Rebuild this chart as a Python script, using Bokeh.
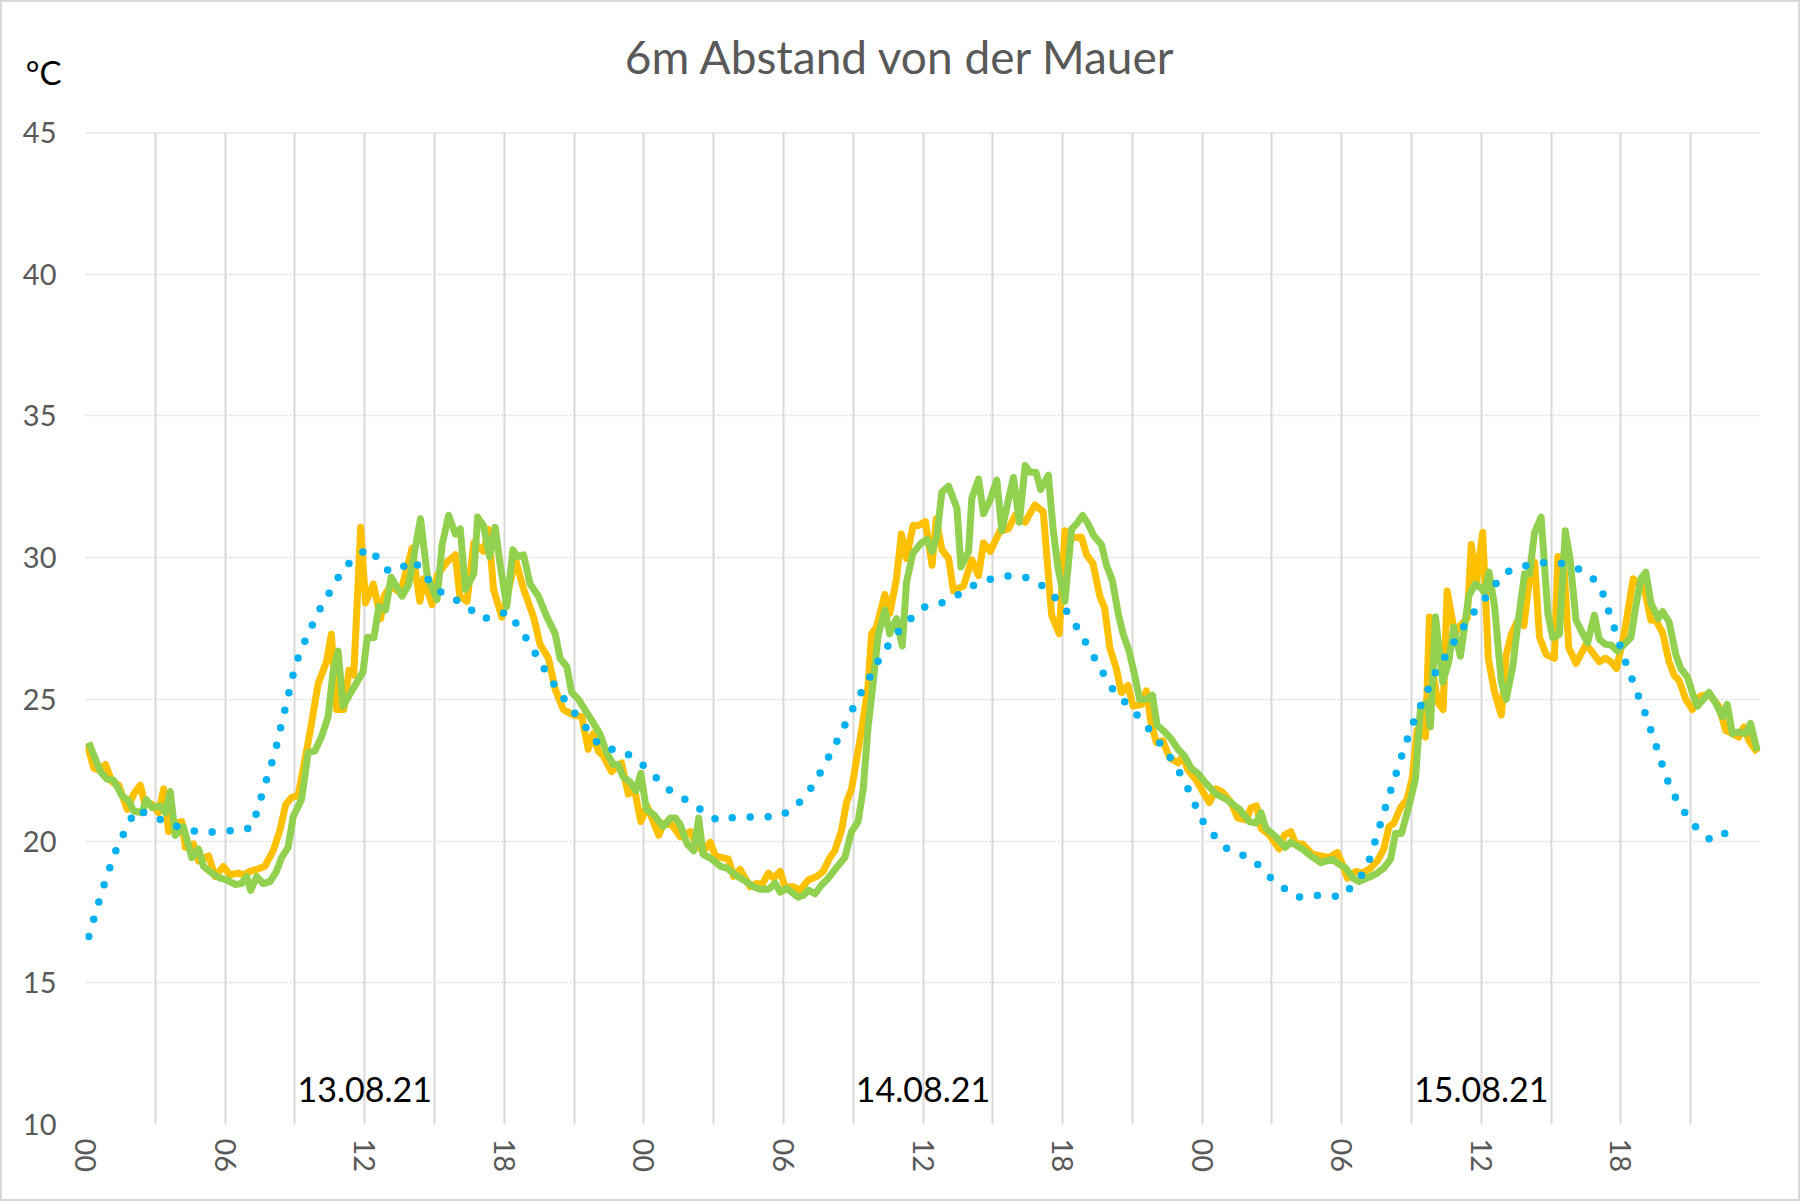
from bokeh.plotting import figure
from bokeh.layouts import column
from bokeh.models import Range1d, FixedTicker, Label, Span
from bokeh.embed import file_html
from bokeh.resources import INLINE

TITLE = "6m Abstand von der Mauer"
UNIT = "°C"
DAYS = ["13.08.21", "14.08.21", "15.08.21"]
HOUR_LABELS = ["00", "06", "12", "18"]
Y_TICKS = [10, 15, 20, 25, 30, 35, 40, 45]

# hours since 13.08.21 00:00, temperatures in °C
orange_hours = [
    0.07, 0.36, 0.57, 0.86, 1.14, 1.43, 1.79, 2.07, 2.36, 2.53, 2.86, 3.14, 3.36, 3.57, 3.86,
    4.14, 4.29, 4.64, 4.86, 5.29, 5.57, 5.93, 6.21, 6.57, 6.79, 7.07, 7.36, 7.71, 8.07, 8.36,
    8.61, 8.86, 9.14, 9.64, 10.0, 10.36, 10.57, 10.79, 11.1, 11.33, 11.53, 11.83, 12.04, 12.37,
    12.69, 12.83, 13.11, 13.54, 14.04, 14.37, 14.54, 14.9, 15.11, 15.54, 15.9, 16.09, 16.4,
    16.69, 17.11, 17.33, 17.54, 17.9, 18.19, 18.47, 18.83, 19.26, 19.54, 19.9, 20.19, 20.54,
    20.97, 21.33, 21.61, 21.83, 22.04, 22.26, 22.61, 23.04, 23.33, 23.61, 23.87, 24.14, 24.64,
    24.86, 25.21, 25.57, 26.0, 26.31, 26.57, 26.86, 27.07, 27.64, 27.86, 28.14, 28.57, 28.86,
    29.07, 29.36, 29.57, 29.86, 30.07, 30.43, 30.71, 31.07, 31.43, 31.71, 32.0, 32.21, 32.5,
    32.71, 32.93, 33.21, 33.43, 33.64, 33.79, 34.0, 34.36, 34.57, 34.86, 35.07, 35.29, 35.57,
    35.79, 36.1, 36.39, 36.57, 36.81, 37.1, 37.31, 37.74, 38.1, 38.39, 38.6, 38.89, 39.31,
    39.67, 39.96, 40.39, 40.81, 41.17, 41.39, 41.53, 41.86, 42.1, 42.46, 42.81, 43.03, 43.31,
    43.6, 43.81, 44.03, 44.31, 44.53, 44.81, 45.03, 45.39, 45.6, 45.81, 46.03, 46.31, 46.6,
    46.96, 47.17, 47.39, 47.74, 47.96, 48.31, 48.6, 48.89, 49.24, 49.53, 49.89, 50.1, 50.34,
    50.53, 50.89, 51.31, 51.53, 51.81, 52.03, 52.31, 52.74, 53.1, 53.46, 53.81, 54.03, 54.24,
    54.6, 54.89, 55.24, 55.53, 55.81, 56.03, 56.24, 56.53, 56.81, 57.03, 57.24, 57.6, 57.77,
    57.96, 58.14, 58.36, 58.53, 58.86, 59.1, 59.39, 59.57, 59.79, 60.06, 60.3, 60.57, 60.86,
    61.07, 61.29, 61.57, 61.83, 62.07, 62.29, 62.5, 62.79, 63.14, 63.29, 63.53, 63.76, 64.07,
    64.5, 64.79, 65.07, 65.33, 65.57, 65.81, 66.14, 66.53, 66.79, 67.0, 67.29, 67.5, 67.79,
    68.07, 68.29, 68.5, 68.79, 69.07, 69.43, 69.79, 70.21, 70.5, 70.79, 71.07, 71.29, 71.5,
    71.86,
]
orange_temps = [
    23.42, 22.57, 22.51, 22.7, 22.09, 21.97, 21.12, 21.66, 21.97, 21.36, 21.3, 21.0, 21.84,
    20.33, 20.63, 20.69, 19.78, 19.9, 19.3, 19.48, 18.75, 19.1, 18.81, 18.87, 18.81, 18.93,
    19.0, 19.11, 19.66, 20.39, 21.3, 21.54, 21.6, 23.79, 25.55, 26.33, 27.3, 24.64, 24.64,
    26.03, 25.85, 31.07, 28.4, 29.07, 27.85, 28.64, 29.0, 28.76, 30.34, 28.46, 29.25, 28.34,
    29.37, 29.85, 30.1, 28.64, 28.46, 30.52, 30.22, 31.0, 28.88, 27.9, 28.88, 29.97, 28.9,
    27.9, 26.94, 26.45, 25.36, 24.64, 24.45, 24.39, 23.24, 23.79, 23.18, 23.0, 22.45, 22.76,
    21.66, 21.78, 20.69, 21.24, 20.21, 20.63, 20.57, 20.15, 20.33, 19.78, 19.66, 19.96, 19.48,
    19.36, 18.75, 19.0, 18.39, 18.51, 18.45, 18.87, 18.69, 18.93, 18.39, 18.39, 18.26, 18.63,
    18.75, 18.93, 19.42, 19.66, 20.39, 21.36, 21.84, 23.18, 24.27, 25.49, 27.31, 27.55, 28.7,
    28.03, 29.25, 30.83, 29.97, 31.13, 31.13, 31.27, 29.73, 31.37, 30.28, 29.98, 28.82, 29.0,
    29.92, 29.37, 30.52, 30.22, 30.95, 31.01, 31.49, 31.25, 31.86, 31.62, 29.37, 27.97, 27.31,
    30.95, 30.7, 30.73, 30.1, 29.79, 28.64, 28.22, 26.82, 26.09, 25.24, 25.49, 24.76, 24.82,
    25.3, 24.15, 23.48, 23.54, 22.94, 22.76, 23.0, 22.51, 22.15, 21.84, 21.36, 21.84, 21.72,
    21.36, 20.81, 20.75, 21.18, 21.24, 20.45, 20.21, 19.72, 20.21, 20.33, 19.9, 19.9, 19.54,
    19.48, 19.42, 19.6, 19.18, 18.69, 18.93, 18.87, 19.05, 19.3, 19.72, 20.51, 20.63, 21.18,
    21.48, 22.21, 23.91, 23.67, 27.91, 25.73, 24.88, 24.64, 28.82, 27.31, 27.61, 27.85, 30.46,
    29.13, 30.89, 26.45, 25.24, 24.45, 26.57, 27.3, 27.79, 27.6, 29.25, 29.85, 27.18, 26.58,
    26.45, 30.04, 29.98, 26.82, 26.27, 26.94, 26.64, 26.33, 26.45, 26.33, 26.09, 27.31, 29.25,
    29.07, 28.94, 27.79, 27.79, 27.36, 26.33, 25.85, 25.67, 25.0, 24.64, 25.12, 25.18, 24.76,
    23.91, 23.79, 23.67, 24.03, 23.55, 23.12,
]

green_hours = [
    0.14, 0.64, 0.93, 1.21, 1.57, 1.86, 2.07, 2.43, 2.61, 2.86, 3.21, 3.43, 3.64, 3.86, 4.21,
    4.57, 4.86, 5.07, 5.43, 5.79, 6.07, 6.43, 6.71, 6.93, 7.1, 7.36, 7.64, 7.93, 8.21, 8.43,
    8.71, 8.93, 9.29, 9.57, 9.86, 10.14, 10.43, 10.64, 10.86, 11.07, 11.36, 11.71, 11.93,
    12.11, 12.4, 12.61, 12.9, 13.14, 13.61, 13.9, 14.4, 14.69, 15.11, 15.33, 15.61, 15.9,
    16.11, 16.33, 16.69, 16.86, 17.11, 17.37, 17.61, 17.83, 18.11, 18.37, 18.57, 18.83, 19.11,
    19.47, 19.83, 20.19, 20.4, 20.69, 20.9, 21.19, 21.61, 22.11, 22.4, 22.69, 22.9, 23.11,
    23.4, 23.66, 23.87, 24.11, 24.43, 24.83, 25.14, 25.36, 25.57, 25.86, 26.14, 26.36, 26.54,
    26.93, 27.29, 27.57, 27.93, 28.29, 28.71, 29.0, 29.36, 29.64, 29.86, 30.14, 30.64, 30.86,
    31.07, 31.36, 31.64, 31.93, 32.21, 32.64, 32.93, 33.21, 33.43, 33.64, 33.86, 34.07, 34.36,
    34.57, 34.86, 35.11, 35.29, 35.57, 35.93, 36.17, 36.39, 36.6, 36.81, 37.1, 37.46, 37.63,
    37.96, 38.1, 38.39, 38.6, 38.89, 39.17, 39.39, 39.67, 39.89, 40.14, 40.39, 40.6, 40.86,
    41.06, 41.39, 41.6, 41.81, 42.1, 42.39, 42.6, 42.86, 43.1, 43.34, 43.67, 43.89, 44.14,
    44.39, 44.6, 44.86, 45.1, 45.31, 45.6, 45.86, 46.06, 46.39, 46.67, 46.96, 47.24, 47.53,
    47.81, 48.1, 48.6, 49.03, 49.6, 50.03, 50.31, 50.53, 50.74, 51.17, 51.57, 51.81, 52.31,
    52.67, 53.1, 53.6, 53.89, 54.17, 54.49, 54.74, 55.24, 55.53, 55.81, 56.1, 56.31, 56.57,
    56.89, 57.17, 57.39, 57.67, 57.81, 58.03, 58.34, 58.6, 58.81, 59.1, 59.46, 59.74, 60.03,
    60.14, 60.33, 60.57, 60.86, 61.07, 61.36, 61.57, 61.86, 62.07, 62.29, 62.57, 62.86, 63.07,
    63.36, 63.61, 63.81, 64.07, 64.29, 64.57, 64.86, 65.07, 65.33, 65.57, 65.86, 66.14, 66.43,
    66.64, 66.86, 67.07, 67.29, 67.61, 67.79, 68.07, 68.36, 68.57, 68.86, 69.07, 69.29, 69.79,
    70.07, 70.36, 70.57, 70.79, 71.07, 71.36, 71.57, 71.86,
]
green_temps = [
    23.48, 22.45, 22.18, 22.15, 21.6, 21.42, 21.06, 21.0, 21.46, 21.18, 21.24, 21.0, 21.75,
    20.2, 20.5, 19.42, 19.72, 19.11, 18.87, 18.69, 18.63, 18.47, 18.5, 18.75, 18.26, 18.75,
    18.5, 18.57, 18.93, 19.42, 19.78, 20.87, 21.48, 23.12, 23.18, 23.67, 24.39, 25.97, 26.7,
    24.76, 25.18, 25.67, 25.97, 27.18, 27.18, 28.28, 28.16, 29.31, 28.64, 29.07, 31.37, 29.37,
    28.52, 30.46, 31.49, 30.83, 31.01, 28.88, 29.43, 31.43, 31.13, 30.04, 31.07, 29.73, 28.28,
    30.28, 30.04, 30.1, 29.07, 28.64, 27.91, 27.31, 26.45, 26.15, 25.24, 25.0, 24.45, 23.79,
    23.12, 22.7, 22.7, 22.27, 22.09, 21.78, 22.39, 21.12, 20.93, 20.51, 20.81, 20.81, 20.57,
    19.9, 19.66, 20.81, 19.54, 19.36, 19.11, 19.05, 18.81, 18.63, 18.39, 18.3, 18.3, 18.51,
    18.2, 18.33, 18.02, 18.08, 18.27, 18.14, 18.45, 18.69, 18.99, 19.42, 20.33, 20.69, 21.84,
    24.03, 25.61, 27.25, 28.16, 27.31, 27.85, 26.88, 29.13, 30.16, 30.52, 30.64, 30.22, 30.77,
    32.31, 32.52, 31.74, 29.67, 30.22, 32.1, 32.77, 31.55, 32.04, 32.74, 30.95, 32.04, 32.83,
    31.25, 33.25, 33.01, 33.01, 32.4, 32.91, 30.95, 29.61, 28.46, 31.01, 31.19, 31.49, 31.19,
    30.77, 30.46, 29.73, 29.19, 28.03, 27.31, 26.7, 25.85, 25.0, 25.0, 25.15, 24.09, 23.85,
    23.6, 23.24, 23.0, 22.57, 22.39, 22.1, 21.66, 21.48, 21.12, 20.69, 20.63, 21.0, 20.45,
    20.15, 19.78, 19.96, 19.72, 19.48, 19.24, 19.36, 19.18, 19.05, 18.69, 18.57, 18.75, 18.87,
    19.05, 19.36, 20.27, 20.27, 21.24, 22.21, 24.76, 24.88, 24.03, 27.91, 25.61, 26.33, 27.55,
    26.52, 28.64, 29.07, 28.9, 28.76, 29.49, 28.28, 25.61, 25.0, 26.21, 27.67, 29.43, 29.43,
    30.89, 31.43, 28.03, 27.18, 27.3, 30.95, 29.98, 27.79, 27.43, 27.0, 27.97, 27.12, 26.94,
    26.92, 26.7, 26.94, 27.18, 28.28, 29.25, 29.49, 28.4, 27.85, 28.1, 27.73, 26.58, 26.09,
    25.79, 25.24, 24.76, 25.24, 24.88, 24.39, 24.82, 23.79, 23.85, 23.79, 24.15, 23.18,
]

blue_hours = [
    0.14, 0.5, 0.89, 1.33, 1.89, 2.21, 2.8, 3.41, 4.03, 4.67, 5.31, 5.97, 6.63, 7.16, 7.36,
    7.74, 8.13, 8.43, 8.73, 9.03, 9.53, 10.1, 10.77, 11.1, 11.61, 12.14, 12.61, 13.04, 13.57,
    14.11, 14.51, 14.91, 15.4, 16.0, 16.54, 17.09, 17.66, 18.2, 18.56, 18.93, 19.27, 19.6,
    19.94, 20.3, 20.69, 21.09, 21.49, 21.86, 22.33, 23.0, 23.54, 24.07, 24.54, 25.03, 25.57,
    26.14, 26.69, 27.21, 27.86, 28.5, 29.17, 29.83, 30.37, 30.84, 31.24, 31.57, 31.89, 32.19,
    32.49, 32.77, 33.07, 33.37, 33.69, 33.99, 34.34, 34.71, 35.11, 35.6, 36.11, 36.79, 37.39,
    37.93, 38.51, 39.17, 39.81, 40.44, 41.04, 41.54, 42.0, 42.37, 42.71, 43.04, 43.36, 43.69,
    44.0, 44.41, 44.9, 45.33, 45.76, 46.16, 46.54, 46.89, 47.24, 47.5, 47.77, 48.06, 48.46,
    48.89, 49.43, 50.07, 50.54, 50.99, 51.53, 52.06, 52.7, 53.34, 54.0, 54.43, 54.86, 55.17,
    55.56, 55.94, 56.34, 56.74, 57.2, 57.49, 57.74, 58.01, 58.36, 58.7, 59.06, 59.41, 59.79,
    60.24, 60.64, 61.07, 61.69, 62.33, 62.97, 63.61, 64.21, 64.79, 65.17, 65.37, 65.59, 65.79,
    65.99, 66.2, 66.44, 66.67, 66.91, 67.16, 67.34, 67.56, 67.76, 67.97, 68.21, 68.56, 68.9,
    69.33, 69.84, 70.31, 70.74,
]
blue_temps = [
    16.63, 17.66, 18.7, 19.72, 20.7, 21.12, 20.9, 20.7, 20.49, 20.36, 20.31, 20.36, 20.36,
    20.49, 21.02, 22.06, 23.08, 24.15, 25.19, 26.25, 27.25, 28.23, 29.16, 29.64, 29.99, 30.34,
    29.94, 29.51, 29.64, 29.92, 29.47, 29.03, 28.7, 28.48, 28.18, 27.83, 28.01, 28.07, 27.62,
    27.17, 26.72, 26.24, 25.78, 25.32, 24.88, 24.45, 24.03, 23.57, 23.26, 23.22, 22.94, 22.61,
    22.23, 21.84, 21.57, 21.3, 20.96, 20.72, 20.83, 20.85, 20.85, 20.87, 21.12, 21.48, 21.93,
    22.39, 22.88, 23.35, 23.83, 24.32, 24.81, 25.28, 25.75, 26.24, 26.7, 27.15, 27.57, 27.94,
    28.28, 28.4, 28.62, 28.93, 29.15, 29.3, 29.37, 29.3, 29.07, 28.71, 28.31, 27.88, 27.42,
    26.94, 26.48, 26.01, 25.52, 25.12, 24.73, 24.33, 23.91, 23.48, 23.06, 22.61, 22.12, 21.64,
    21.15, 20.66, 20.25, 19.82, 19.57, 19.43, 19.05, 18.67, 18.33, 18.01, 18.08, 18.09, 18.02,
    18.4, 18.81, 19.3, 20.33, 21.36, 22.39, 23.43, 24.45, 24.94, 25.42, 25.92, 26.39, 26.86,
    27.33, 27.78, 28.2, 28.64, 29.09, 29.49, 29.67, 29.79, 29.85, 29.77, 29.59, 29.27, 28.88,
    28.36, 27.84, 27.33, 26.82, 26.31, 25.8, 25.29, 24.78, 24.27, 23.76, 23.24, 22.73, 22.21,
    21.72, 21.26, 20.79, 20.39, 20.05, 20.12, 20.53,
]

FONT = "Lato"
GRID = "#d9d9d9"
GREY_TEXT = "#595959"
WIDTH = 1796
HEADER_H = 110
PLOT_H = 1087
BORDER_L = 83
BORDER_R = 38
FRAME_W = WIDTH - BORDER_L - BORDER_R


def make_header():
    # strip above the chart: title inside its frame, unit as its only y tick label
    h = figure(
        width=WIDTH,
        height=HEADER_H,
        x_range=Range1d(0, FRAME_W),
        y_range=Range1d(0, HEADER_H),
        x_axis_location=None,
        output_backend="svg",
        toolbar_location=None,
        min_border_left=BORDER_L,
        min_border_right=BORDER_R,
        min_border_top=0,
        min_border_bottom=0,
        outline_line_color=None,
    )
    h.grid.visible = False
    h.yaxis.ticker = FixedTicker(ticks=[41])
    h.yaxis.major_label_overrides = {41: UNIT}
    h.yaxis.axis_line_color = None
    h.yaxis.major_tick_line_color = None
    h.yaxis.minor_tick_line_color = None
    h.yaxis.major_tick_out = 0
    h.yaxis.major_tick_in = 0
    h.yaxis.major_label_standoff = 24
    h.yaxis.major_label_text_font = FONT
    h.yaxis.major_label_text_font_size = "33px"
    h.yaxis.major_label_text_color = "black"
    h.add_layout(Label(x=FRAME_W / 2 - 22, y=56, text=TITLE, text_align="center",
                       text_baseline="alphabetic", text_font=FONT,
                       text_font_size="46px", text_color=GREY_TEXT))
    return h


def make_plot():
    p = figure(
        width=WIDTH,
        height=PLOT_H,
        x_range=Range1d(0, 72),
        y_range=Range1d(10, 45),
        output_backend="svg",
        toolbar_location=None,
        min_border_left=BORDER_L,
        min_border_right=BORDER_R,
        min_border_top=20,
        min_border_bottom=75,
        outline_line_color=None,
    )

    hour_ticks = list(range(0, 72, 6))
    p.xaxis.ticker = FixedTicker(ticks=hour_ticks)
    p.xaxis.major_label_overrides = {t: HOUR_LABELS[(t // 6) % 4] for t in hour_ticks}
    p.xaxis.major_label_orientation = "vertical"
    p.xaxis.major_label_standoff = 14
    p.yaxis.ticker = FixedTicker(ticks=Y_TICKS)
    p.yaxis.major_label_standoff = 29
    for ax in (p.xaxis, p.yaxis):
        ax.axis_line_color = None
        ax.major_tick_line_color = None
        ax.minor_tick_line_color = None
        ax.major_tick_out = 0
        ax.major_tick_in = 0
        ax.major_label_text_font = FONT
        ax.major_label_text_font_size = "29px"
        ax.major_label_text_color = GREY_TEXT

    # solid verticals every 3 h, dotted horizontals, solid top edge
    p.xgrid.ticker = FixedTicker(ticks=list(range(0, 73, 3)))
    p.xgrid.grid_line_color = GRID
    p.xgrid.grid_line_width = 2
    p.ygrid.ticker = FixedTicker(ticks=Y_TICKS[1:-1])
    p.ygrid.grid_line_color = GRID
    p.ygrid.grid_line_width = 1.5
    p.ygrid.grid_line_dash = "2 2"
    p.add_layout(Span(location=Y_TICKS[-1], dimension="width", line_color=GRID, line_width=2))

    p.line(orange_hours, orange_temps, line_color="#ffc000", line_width=7, line_join="round")
    p.line(green_hours, green_temps, line_color="#92d050", line_width=7, line_join="round")
    p.line(
        blue_hours,
        blue_temps,
        line_color="#00b0f0",
        line_width=7.5,
        line_dash="0 18",
        line_cap="round",
    )

    for i, day in enumerate(DAYS):
        p.add_layout(Label(x=24 * i + 12, y=11.23, text=day, text_align="center",
                           text_baseline="alphabetic", text_font=FONT,
                           text_font_size="34px", text_color="black"))
    return p


if __name__ == "__main__":
    page = column(make_header(), make_plot(), spacing=0,
                  styles={"border": "2px solid #d9d9d9"})
    open("out.html", "w").write(file_html(page, INLINE))
